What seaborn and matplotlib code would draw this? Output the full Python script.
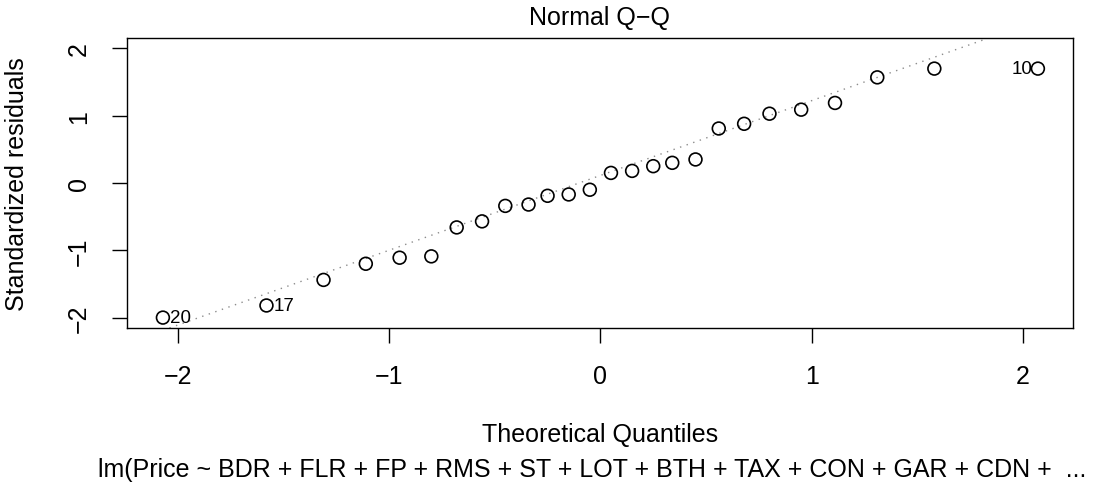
import numpy as np
import pandas as pd
import matplotlib
matplotlib.use("Agg")
import matplotlib.pyplot as plt
import seaborn as sns

# theoretical normal quantiles and standardized residuals
theoretical = [-2.07, -1.58, -1.31, -1.11, -0.95, -0.80, -0.68, -0.56, -0.45,
               -0.34, -0.25, -0.15, -0.05, 0.05, 0.15, 0.25, 0.34, 0.45,
               0.56, 0.68, 0.80, 0.95, 1.11, 1.31, 1.58, 2.07]
std_resid = [-2.00, -1.82, -1.44, -1.20, -1.11, -1.09, -0.66, -0.57, -0.34,
             -0.32, -0.19, -0.17, -0.10, 0.15, 0.18, 0.25, 0.30, 0.35,
             0.81, 0.88, 1.03, 1.09, 1.19, 1.57, 1.70, 1.70]

# labelled observations (index into the arrays above, label text)
id_index = [0, 1, 25]
id_text = ["20", "17", "10"]

x_ticks = [-2, -1, 0, 1, 2]
y_ticks = [-2, -1, 0, 1, 2]

title = "Normal Q\u2212Q"
xlab = "Theoretical Quantiles"
ylab = "Standardized residuals"
subtitle = "lm(Price ~ BDR + FLR + FP + RMS + ST + LOT + BTH + TAX + CON + GAR + CDN +  ..."

df = pd.DataFrame({"theoretical": theoretical, "resid": std_resid})

sns.set_theme(style="white")
plt.rcParams["font.family"] = ["Liberation Sans", "DejaVu Sans"]
plt.rcParams["text.color"] = "black"
plt.rcParams["axes.labelcolor"] = "black"
plt.rcParams["xtick.color"] = "black"
plt.rcParams["ytick.color"] = "black"

fs = 18

fig = plt.figure(figsize=(11.08, 4.85), dpi=100)
ax = fig.add_axes([0.1146, 0.3216, 0.8538, 0.598])

# qqline through the quartiles, like R's qqline()
q1, q3 = np.quantile(df["resid"], [0.25, 0.75])
z = 0.6745
slope = (q3 - q1) / (2 * z)
intercept = q1 + slope * z
ax.axline((0, intercept), slope=slope, color="#8c8c8c", lw=1.0,
          linestyle=(0, (1, 4)), zorder=1)

sns.scatterplot(data=df, x="theoretical", y="resid", ax=ax, s=85,
                facecolor="none", edgecolor="black", linewidth=1.2,
                zorder=3, legend=False)

for i, t in zip(id_index, id_text):
    x, y = theoretical[i], std_resid[i]
    if x < 0:
        ax.annotate(t, (x, y), xytext=(5, 0), textcoords="offset points",
                    ha="left", va="center", fontsize=13.5)
    else:
        ax.annotate(t, (x, y), xytext=(-4, 0), textcoords="offset points",
                    ha="right", va="center", fontsize=13.5)

ax.set_xlim(-2.24, 2.236)
ax.set_ylim(-2.155, 2.155)
ax.set_xticks(x_ticks)
ax.set_yticks(y_ticks)
ax.tick_params(axis="both", direction="out", length=10.8, width=1.0,
               color="black", labelsize=fs, pad=15, bottom=True, left=True)
ax.tick_params(axis="y", labelrotation=90)
for lbl in ax.get_yticklabels():
    lbl.set_va("center")

for sp in ax.spines.values():
    sp.set_visible(True)
    sp.set_color("black")
    sp.set_linewidth(1.0)

ax.set_title(title, fontsize=fs, pad=10)
ax.set_xlabel(xlab, fontsize=fs)
ax.xaxis.label.set_va("baseline")
ax.xaxis.set_label_coords(0.5, -0.39)
ax.set_ylabel(ylab, fontsize=fs)
ax.yaxis.set_label_coords(-0.104, 0.5)
ax.text(0.4915, -0.51, subtitle, transform=ax.transAxes, ha="center",
        va="baseline", fontsize=fs)

fig.savefig("out.png", dpi=100)
